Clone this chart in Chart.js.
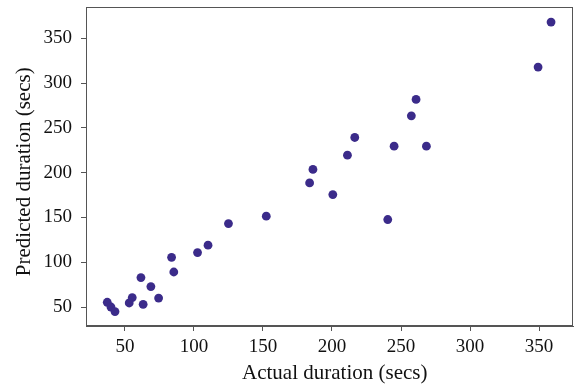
<!DOCTYPE html>
<html>
<head>
<meta charset="utf-8">
<script src="https://cdn.jsdelivr.net/npm/chart.js@4/dist/chart.umd.min.js"></script>
<style>
  html, body { margin: 0; padding: 0; background: #fff; }
  #wrap { width: 574px; height: 387px; }
</style>
</head>
<body>
<div id="wrap"><canvas id="c" width="574" height="387"></canvas></div>
<script>
// Data
const actualSecs = [358.7, 349.3, 260.9, 257.5, 245.0, 268.4, 216.5, 211.2, 186.2, 183.8,
                    200.6, 240.4, 152.4, 125.0, 110.2, 102.6, 83.8, 85.4, 61.6, 68.8,
                    74.4, 55.3, 53.1, 63.2, 37.2, 39.9, 42.8];
const predictedSecs = [368.2, 317.9, 281.8, 263.5, 229.6, 229.6, 239.3, 219.5, 203.6, 188.6,
                       175.6, 147.7, 151.4, 143.2, 119.0, 110.8, 105.5, 89.1, 82.9, 72.8,
                       60.0, 60.5, 54.5, 53.0, 55.3, 50.0, 44.9];
const xTickValues = [50, 100, 150, 200, 250, 300, 350];
const yTickValues = [50, 100, 150, 200, 250, 300, 350];
const xTitle = 'Actual duration (secs)';
const yTitle = 'Predicted duration (secs)';

const points = actualSecs.map((x, i) => ({ x: x, y: predictedSecs[i] }));

const FONT = 'Liberation Serif, Times New Roman, serif';
const AXIS_COLOR = '#555555';

const framePlugin = {
  id: 'frame',
  afterDraw(chart) {
    const a = chart.chartArea;
    const ctx = chart.ctx;
    ctx.save();
    ctx.strokeStyle = AXIS_COLOR;
    ctx.lineWidth = 1;
    ctx.strokeRect(a.left + 0.5, a.top + 0.5, a.right - a.left - 1, a.bottom - a.top - 1);
    ctx.restore();
  }
};

new Chart(document.getElementById('c'), {
  type: 'scatter',
  data: {
    datasets: [{
      data: points,
      backgroundColor: '#3b2b8a',
      borderWidth: 0,
      pointRadius: 4.4,
      pointHoverRadius: 4.4
    }]
  },
  options: {
    responsive: false,
    animation: false,
    devicePixelRatio: 1,
    layout: { autoPadding: false, padding: { top: 7, right: 1, left: 0, bottom: 0 } },
    plugins: { legend: { display: false }, tooltip: { enabled: false } },
    scales: {
      x: {
        type: 'linear',
        min: 21.8,
        max: 374.6,
        afterFit(scale) { scale.height = 61; scale.paddingLeft = 0; scale.paddingRight = 0; },
        afterBuildTicks(scale) { scale.ticks = xTickValues.map(v => ({ value: v })); },
        grid: { drawOnChartArea: false, drawTicks: true, tickLength: 5, color: AXIS_COLOR },
        border: { display: true, color: AXIS_COLOR, width: 1 },
        ticks: { color: '#111', padding: 5, maxRotation: 0, font: { family: FONT, size: 19 } },
        title: { display: true, text: '  ' + xTitle, color: '#111', padding: { top: 0, bottom: 1 },
                 font: { family: FONT, size: 21 } }
      },
      y: {
        type: 'linear',
        min: 28.8,
        max: 385,
        afterFit(scale) { scale.width = 86; scale.paddingTop = 0; scale.paddingBottom = 0; },
        afterBuildTicks(scale) { scale.ticks = yTickValues.map(v => ({ value: v })); },
        grid: { drawOnChartArea: false, drawTicks: true, tickLength: 5, color: AXIS_COLOR },
        border: { display: true, color: AXIS_COLOR, width: 1 },
        ticks: { color: '#111', padding: 9, font: { family: FONT, size: 19 } },
        title: { display: true, text: yTitle + '  ', color: '#111', padding: { top: 12, bottom: 0 },
                 font: { family: FONT, size: 21 } }
      }
    }
  },
  plugins: [framePlugin]
});
</script>
</body>
</html>
